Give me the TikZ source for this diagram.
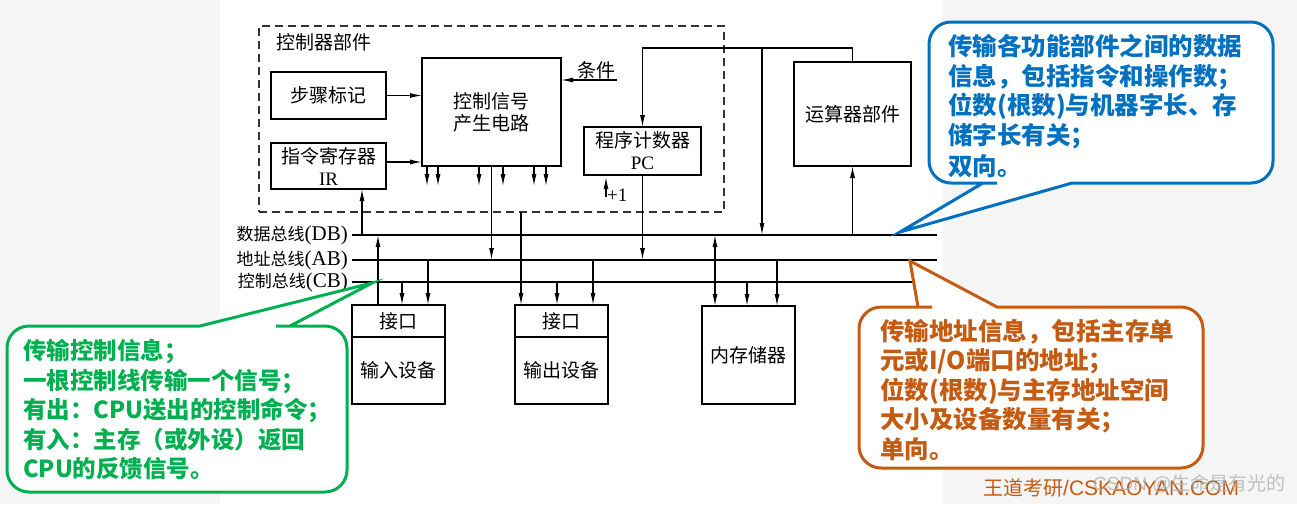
\documentclass[tikz,border=0pt]{standalone}
\usepackage{fontspec}
\setmainfont{Liberation Serif}
\newfontfamily\cjk{Noto Sans CJK SC}
\newfontfamily\latsans{Liberation Sans}
\usetikzlibrary{arrows.meta, positioning, calc}

\definecolor{dbblue}{RGB}{0,112,192}
\definecolor{cbgreen}{RGB}{0,176,80}
\definecolor{aborange}{RGB}{197,90,17}
\newcommand{\blkfont}{\cjk\fontsize{19}{22}\selectfont}
\newcommand{\busfont}{\fontsize{21}{22}\selectfont}
\newcommand{\buscjk}{\cjk\fontsize{17}{20}\selectfont}
\newcommand{\notefont}{\cjk\bfseries\fontsize{24.5}{29.5}\selectfont}
\newcommand{\greenfont}{\cjk\bfseries\fontsize{23.5}{29.5}\selectfont}

\begin{document}
\begin{tikzpicture}[x=1pt, y=-1pt,
    unit/.style={draw, line width=1.4pt, font=\blkfont, align=center, inner sep=0pt, outer sep=0pt},
    sig/.style={line width=1.2pt, -{Latex[length=12pt, width=5pt]}},
    bidir/.style={line width=1.2pt, {Latex[length=12pt, width=5pt]}-{Latex[length=12pt, width=5pt]}},
    bus/.style={line width=1.4pt},
    note/.style={line width=3pt, fill=white},
    notetext/.style={anchor=north west, align=left, inner sep=0pt}
]
% page background
\fill[black!4] (0,0) rectangle (1297,504);
\fill[white] (220,0) rectangle (943,504);
\useasboundingbox (0,0) rectangle (1297,504);

% Control unit (dashed frame)
\node[draw, black!80, line width=1.3pt, dash pattern=on 8pt off 5pt, outer sep=0pt,
      minimum width=465pt, minimum height=186pt] (ctrl) at (491.5,119) {};
\node[font=\blkfont, anchor=west] (ctrllbl) at ($(ctrl.north west)+(14,16)$) {控制器部件};

\node[unit, minimum width=115pt, minimum height=47pt] (step) at (328.5,95.5) {步骤标记};
\node[unit, minimum width=115pt, minimum height=46pt] (ir) at (328.5,166) {指令寄存器\\{\rmfamily IR}};
\node[unit, minimum width=139pt, minimum height=108pt] (csg) at (491.5,112) {控制信号\\产生电路};
\node[unit, minimum width=117pt, minimum height=48pt] (pc) at (642.5,151) {程序计数器\\{\rmfamily PC}};
\node[font=\blkfont, anchor=south east, inner sep=1pt] (cond) at (617,80) {条件};
\node[font=\fontsize{19}{20}\selectfont, anchor=west, inner sep=1pt] (inc) at (606,195) {+1};

% ALU
\node[unit, minimum width=117pt, minimum height=104pt] (alu) at (852.5,114) {运算器部件};

% Devices on the bus
\node[unit, minimum width=93pt, minimum height=32pt] (inport) at (398.5,321) {接口};
\node[unit, minimum width=93pt, minimum height=67pt, below=0pt of inport] (indev) {输入设备};
\node[unit, minimum width=93pt, minimum height=32pt] (outport) at (561.5,321) {接口};
\node[unit, minimum width=93pt, minimum height=67pt, below=0pt of outport] (outdev) {输出设备};
\node[unit, minimum width=93pt, minimum height=98pt] (mem) at (748.5,355) {内存储器};

% System buses
\coordinate (db) at (352,235); \coordinate (dbe) at (937,235);
\coordinate (ab) at (352,260); \coordinate (abe) at (937,260);
\coordinate (cb) at (352,282); \coordinate (cbe) at (937,282);
\draw[bus] (db) -- (dbe);
\draw[bus] (ab) -- (abe);
\draw[bus] (cb) -- (cbe);
\node[font=\busfont, anchor=east, inner sep=4pt] (dblbl) at (db) {{\buscjk 数据总线}(DB)};
\node[font=\busfont, anchor=east, inner sep=4pt] (ablbl) at (ab) {{\buscjk 地址总线}(AB)};
\node[font=\busfont, anchor=east, inner sep=4pt] (cblbl) at (cb) {{\buscjk 控制总线}(CB)};

% Inside the control unit
\coordinate (irout) at ($(ir.east)+(0,-4)$);
\draw[sig] (step.east) -- (step.east -| csg.west);
\draw[sig] (irout) -- (irout -| csg.west);
\draw[sig] (cond.south east) -- (cond.south east -| csg.east);
\draw[sig] ($(csg.south west)+(5,0)$) -- ++(0,20);
\draw[sig] ($(csg.south west)+(16,0)$) -- ++(0,20);
\draw[sig] ($(csg.south west)+(57,0)$) -- ++(0,20);
\draw[sig] ($(csg.south west)+(81,0)$) -- ++(0,20);
\draw[sig] ($(csg.south west)+(112,0)$) -- ++(0,20);
\draw[sig] ($(csg.south west)+(124,0)$) -- ++(0,20);
\draw[sig, shorten >=2pt] (inc.west |- 0,197) -- (inc.west |- pc.south);

% CPU to buses
\coordinate (irin) at ($(ir.south)+(33.5,0)$);
\coordinate (alutap) at ($(alu.north)+(-90.5,-14)$);
\draw[sig] (irin |- db) -- (irin);
\draw[sig] (csg.south) -- (csg.south |- ab);
\draw[sig] (pc.south) -- (pc.south |- ab);
\draw[sig] (alu.north) -- ++(0,-14) -| (pc.north);
\draw[sig] (alutap) -- (alutap |- db);
\draw[sig] (alu.south |- db) -- (alu.south);

% Buses to devices
\coordinate (in1) at ($(inport.north west)+(26,0)$);
\coordinate (in2) at ($(inport.north west)+(50,0)$);
\coordinate (in3) at ($(inport.north west)+(76,0)$);
\coordinate (outtap) at ($(outport.north west)+(6,0)$);
\coordinate (out2) at ($(outport.north west)+(42,0)$);
\coordinate (out3) at ($(outport.north west)+(78,0)$);
\coordinate (m1) at ($(mem.north west)+(13,0)$);
\coordinate (m2) at ($(mem.north west)+(45,0)$);
\coordinate (m3) at ($(mem.north west)+(75,0)$);
\draw[sig] (in1) -- (in1 |- db);
\draw[sig] (in2 |- cb) -- (in2);
\draw[sig] (in3 |- ab) -- (in3);
\draw[sig] (ctrl.south -| outtap) -- (outtap);
\draw[sig] (out2 |- cb) -- (out2);
\draw[sig] (out3 |- ab) -- (out3);
\draw[bidir] (m1 |- db) -- (m1);
\draw[sig] (m2 |- cb) -- (m2);
\draw[sig] (m3 |- ab) -- (m3);

% Callouts
\coordinate (dbnote) at (900,232);
\coordinate (abnote) at (910,261);
\coordinate (cbnote) at (372,283);
\draw[note, draw=dbblue] (983,183) -- (dbnote) -- (1072,183) -- (1080,183) [rounded corners=22pt]
    -- (1273,183) -- (1273,22) -- (929,22) -- (929,183) -- (975,183) [sharp corners] -- cycle;
\node[notetext, font=\notefont, text=dbblue] (dbtext) at (948,34)
    {传输各功能部件之间的数据\\信息，包括指令和操作数；\\位数(根数)与机器字长、存\\储字长有关；\\[2pt]双向。};

\draw[note, draw=cbgreen] (290,326) -- (cbnote) -- (200,326) -- (192,326) [rounded corners=22pt]
    -- (7,326) -- (7,492) -- (347,492) -- (347,326) -- (298,326) [sharp corners] -- cycle;
\node[notetext, font=\greenfont, text=cbgreen] (cbtext) at (23,339)
    {传输控制信息；\\一根控制线传输一个信号；\\有出：CPU送出的控制命令；\\有入：主存（或外设）返回\\CPU的反馈信号。};

\draw[note, draw=aborange] (918,307) -- (abnote) -- (997,307) -- (1005,307) [rounded corners=22pt]
    -- (1203,307) -- (1203,468) -- (859,468) -- (859,307) -- (910,307) [sharp corners] -- cycle;
\node[notetext, font=\notefont, text=aborange] (abtext) at (880,319)
    {传输地址信息，包括主存单\\元或I/O端口的地址；\\位数(根数)与主存地址空间\\大小及设备数量有关；\\单向。};

% Watermarks
\node[anchor=west, text=aborange, inner sep=0pt] (brand) at (983,488)
    {{\cjk\fontsize{20}{22}\selectfont 王道考研}{\latsans\fontsize{21}{22}\selectfont /CSKAOYAN.COM}};
\node[anchor=west, text=black!30, opacity=0.8, inner sep=0pt] (csdn) at (1093,484)
    {\latsans\fontsize{19}{22}\selectfont CSDN @{\cjk 生命是有光的}};
\end{tikzpicture}
\end{document}
